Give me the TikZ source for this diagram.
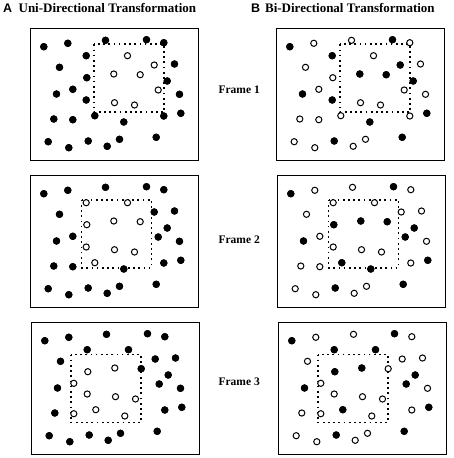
\documentclass[tikz,border=0pt]{standalone}
\usepackage{fontspec}
\setmainfont{Liberation Serif}
\setsansfont{Liberation Sans}
\usetikzlibrary{positioning}

% dot positions inside a panel, i/x/y from the panel's top left corner
\newcommand{\dotlayout}{1/13.8/18.7, 2/37.8/15.3, 3/75.5/12.3, 4/116.5/11.7, 5/133.8/14.7,
  6/56.2/27.7, 7/97.5/27.7, 8/29.5/39.3, 9/124.2/37, 10/144.5/36,
  11/56.8/49.7, 12/83.8/46, 13/110.2/46.7, 14/137.2/53, 15/42.8/61.3,
  16/128.2/62, 17/26.5/66, 18/149.5/66.3, 19/56.2/72, 20/84.5/74.7,
  21/104.5/77, 22/64.8/87.7, 23/133.8/88, 24/150.8/85.3, 25/23.8/91,
  26/42.8/91.7, 27/93.8/94, 28/18.2/113.7, 29/38.8/119.7, 30/58.2/113,
  31/77.2/118.3, 32/89.5/111.3, 33/126.2/109.3}

\tikzset{
  panel/.style={line width=.8pt},
  window/.style={line width=1.7pt, dash pattern=on 1.7pt off 3.5pt},
  opendot/.style={draw, fill=white, line width=1pt},
  title/.style={font=\bfseries\fontsize{13}{15}\selectfont, inner sep=0pt},
  letter/.style={font=\sffamily\bfseries\fontsize{12.5}{15}\selectfont, inner sep=0pt, anchor=base west},
  framelabel/.style={font=\bfseries\fontsize{11.5}{13}\selectfont, inner sep=0pt, anchor=east}
}

% #1 corner of the dotted window, #2 the dots that are filled
\newcommand{\dotpanel}[2]{%
  \draw[panel] (0,0) rectangle (168,132);
  \draw[window] (#1) rectangle ++(70,68);
  \foreach \i/\x/\y in \dotlayout {
    \coordinate (d\i) at (\x,\y);
    \draw[opendot] (d\i) circle (3.1pt);
  }
  \foreach \i in {#2} \fill (d\i) circle (3.7pt);
}

\begin{document}
\begin{tikzpicture}[x=1pt, y=-1pt]
  \useasboundingbox (0,0) rectangle (454,458);

  % titles
  \node[letter] (A) at (3,12.5) {A};
  \node[title, base right=6pt of A] (At) {Uni-Directional Transformation};
  \node[letter] (B) at (251,12.5) {B};
  \node[title, base right=4.5pt of B] (Bt) {Bi-Directional Transformation};

  % uni-directional
  \begin{scope}[shift={(30,28)}]
    \dotpanel{64,16.3}{1,2,3,4,5,6,8,10,11,14,15,17,18,19,22,23,24,25,26,27,28,29,30,31,32,33}
  \end{scope}
  \begin{scope}[shift={(30,175)}]
    \dotpanel{51.5,24.7}{1,2,3,4,5,8,9,10,14,15,16,17,18,23,24,25,26,27,28,29,30,31,32,33}
  \end{scope}
  \begin{scope}[shift={(31,322)}]
    \dotpanel{40,32.5}{1,2,3,4,5,6,7,8,9,10,13,14,16,17,18,23,24,25,28,29,30,31,32,33}
  \end{scope}

  % bi-directional
  \begin{scope}[shift={(276,28)}]
    \dotpanel{64,16.3}{1,4,6,9,12,13,14,17,19,24,27,30,33}
  \end{scope}
  \begin{scope}[shift={(277,175)}]
    \dotpanel{51.5,24.7}{1,4,11,12,13,14,16,17,22,24,27,30,33}
  \end{scope}
  \begin{scope}[shift={(278,322)}]
    \dotpanel{40,32.5}{1,4,6,7,11,12,14,16,17,22,24,30,33}
  \end{scope}

  % frame labels
  \node[framelabel] (F1) at (260,90) {Frame 1};
  \node[framelabel] (F2) at (260,240) {Frame 2};
  \node[framelabel] (F3) at (260,382) {Frame 3};
\end{tikzpicture}
\end{document}
